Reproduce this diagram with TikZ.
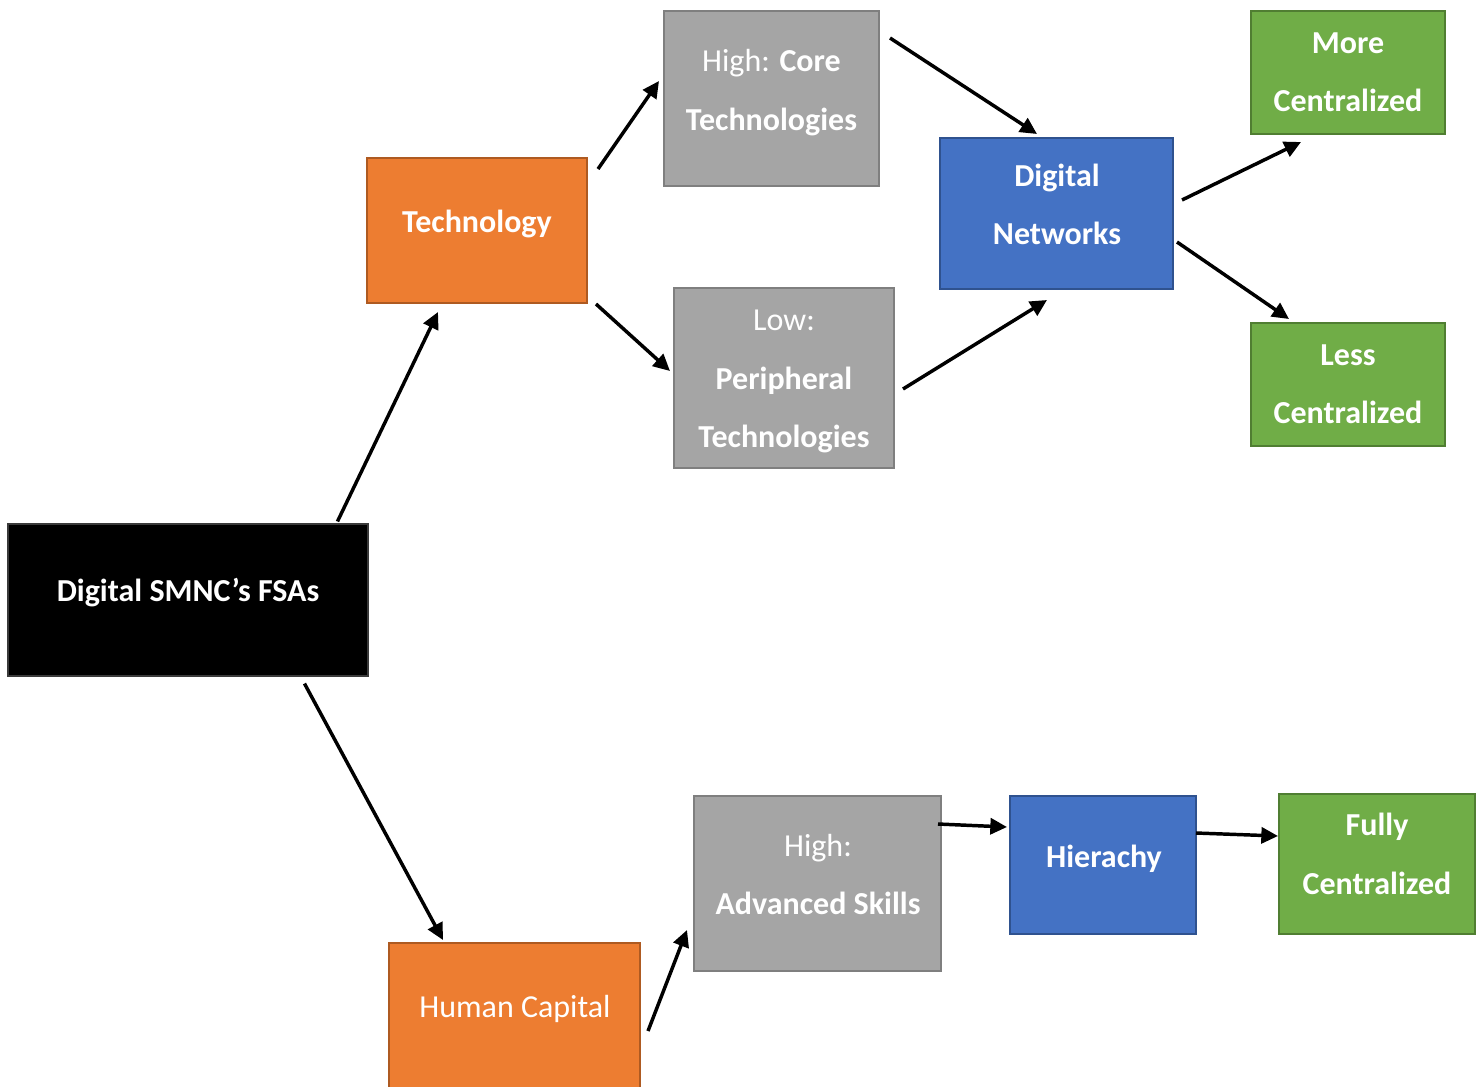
\documentclass[tikz,border=0pt]{standalone}
\usepackage{fontspec}
\setmainfont{Carlito}
\usetikzlibrary{arrows.meta,calc}
\definecolor{orangeF}{HTML}{ED7D31}\definecolor{orangeD}{HTML}{AE5A21}
\definecolor{grayF}{HTML}{A5A5A5}\definecolor{grayD}{HTML}{7F7F7F}
\definecolor{blueF}{HTML}{4472C4}\definecolor{blueD}{HTML}{2F528F}
\definecolor{greenF}{HTML}{70AD47}\definecolor{greenD}{HTML}{507E32}
\definecolor{blackD}{HTML}{3A3A3A}
\begin{document}
\begin{tikzpicture}[x=0.75pt,y=-0.75pt,
  box/.style={rectangle, line width=1.5pt, inner sep=0pt},
  sz/.style 2 args={minimum width=#1*0.75pt, minimum height=#2*0.75pt},
  orangebox/.style={box, fill=orangeF, draw=orangeD},
  graybox/.style={box, fill=grayF, draw=grayD},
  bluebox/.style={box, fill=blueF, draw=blueD},
  greenbox/.style={box, fill=greenF, draw=greenD},
  blackbox/.style={box, fill=black, draw=blackD, line width=0.8pt},
  txt/.style={text=white, anchor=base, inner sep=0pt, font=\fontsize{24pt}{29pt}\selectfont},
  arr/.style={line width=2.6pt, -{Triangle[length=12.5pt,width=12pt]}}]
\fill[white] (0,0) rectangle (1477,1086);
\useasboundingbox (0,0) rectangle (1477,1086);
% boxes
\node[blackbox, sz={360}{152}] (fsa) at (188,600) {};
\node[orangebox, sz={220}{145}] (tech) at (477,230.5) {};
\node[graybox, sz={215}{175}] (core) at (771.5,98.5) {};
\node[graybox, sz={220}{180}] (low) at (784,378) {};
\node[bluebox, sz={233}{151}] (dn) at (1056.5,213.5) {};
\node[greenbox, sz={194}{123}] (more) at (1348,72.5) {};
\node[greenbox, sz={194}{123}] (less) at (1348,384.5) {};
\node[orangebox, sz={251}{157}] (hc) at (514.5,1021.5) {};
\node[graybox, sz={247}{175}] (adv) at (817.5,883.5) {};
\node[bluebox, sz={186}{138}] (hier) at (1103,865) {};
\node[greenbox, sz={196}{140}] (fully) at (1377,864) {};
% texts
\node[txt] (fsa-t) at (188,601) {\bfseries Digital SMNC’s FSAs};
\node[txt] (tech-t) at (477,232) {\bfseries Technology};
\node[txt] (core-t1) at (771.5,71) {High: \bfseries Core};
\node[txt] (core-t2) at (771.5,130) {\bfseries Technologies};
\node[txt] (low-t1) at (784,330) {Low:};
\node[txt] (low-t2) at (784,389) {\bfseries Peripheral};
\node[txt] (low-t3) at (784,447) {\bfseries Technologies};
\node[txt] (dn-t1) at (1057,186) {\bfseries Digital};
\node[txt] (dn-t2) at (1057,244) {\bfseries Networks};
\node[txt] (more-t1) at (1348,53) {\bfseries More};
\node[txt] (more-t2) at (1348,111) {\bfseries Centralized};
\node[txt] (less-t1) at (1348,365) {\bfseries Less};
\node[txt] (less-t2) at (1348,423) {\bfseries Centralized};
\node[txt] (hc-t) at (515,1017) {Human Capital};
\node[txt] (adv-t1) at (818,856) {High:};
\node[txt] (adv-t2) at (818,914) {\bfseries Advanced Skills};
\node[txt] (hier-t) at (1104,867) {\bfseries Hierachy};
\node[txt] (fully-t1) at (1377,835) {\bfseries Fully};
\node[txt] (fully-t2) at (1377,894) {\bfseries Centralized};
% arrows
\draw[arr] ($(fsa.north west)+(330,-2)$) -- ($(tech.south west)+(72,8)$);
\draw[arr] ($(tech.north east)+(10,12)$) -- ($(core.north west)+(-4,71)$);
\draw[arr] ($(tech.south east)+(8,0)$) -- ($(low.north west)+(-3,84)$);
\draw[arr] ($(core.north east)+(10,28)$) -- ($(dn.north west)+(98,-3)$);
\draw[arr] ($(low.north east)+(8,102)$) -- ($(dn.south west)+(108,10)$);
\draw[arr] ($(dn.north east)+(8,63)$) -- ($(more.south west)+(51,7)$);
\draw[arr] ($(dn.north east)+(3,105)$) -- ($(less.north west)+(39,-3)$);
\draw[arr] ($(fsa.south west)+(297,7)$) -- ($(hc.north west)+(55,-2)$);
\draw[arr] ($(hc.north east)+(7,89)$) -- ($(adv.south west)+(-6,-42)$);
\draw[arr] ($(adv.north east)+(-4,29)$) -- ($(hier.north west)+(-2,32)$);
\draw[arr] ($(hier.north east)+(-1,38)$) -- ($(fully.north west)+(0,43)$);
\end{tikzpicture}
\end{document}
